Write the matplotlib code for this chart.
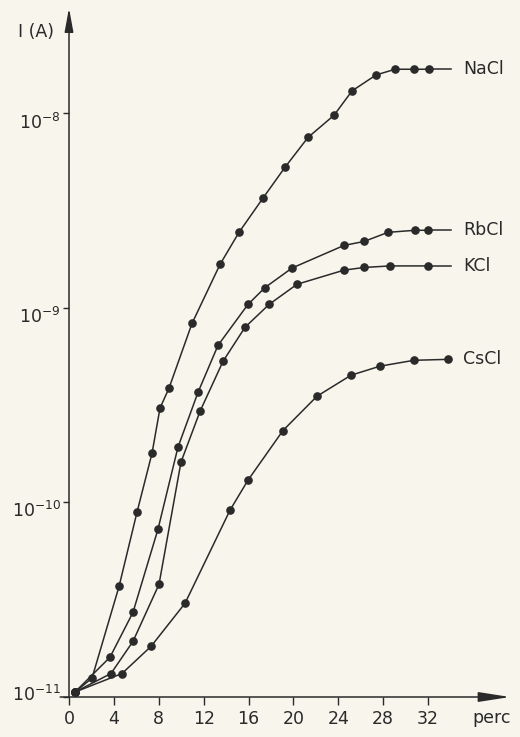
import matplotlib
matplotlib.use("Agg")
import matplotlib.pyplot as plt
import matplotlib.transforms as mtransforms
from matplotlib.ticker import NullLocator

# ---- data ----
perc_nacl = [0.53, 2.05, 4.46, 6.06, 7.40, 8.11, 8.91, 10.96, 13.46, 15.15,
             17.29, 19.25, 21.30, 23.62, 25.22, 27.36, 29.06, 30.75, 32.09]
i_nacl = [1.06e-11, 1.25e-11, 3.7e-11, 8.9e-11, 1.79e-10, 3.05e-10, 3.86e-10,
          8.3e-10, 1.67e-9, 2.44e-9, 3.66e-9, 5.27e-9, 7.5e-9, 9.75e-9,
          1.30e-8, 1.57e-8, 1.68e-8, 1.68e-8, 1.68e-8]

perc_rbcl = [0.53, 3.65, 5.70, 7.93, 9.71, 11.50, 13.28, 15.95, 17.47, 19.88,
             24.51, 26.29, 28.43, 30.84, 32.00]
i_rbcl = [1.06e-11, 1.60e-11, 2.72e-11, 7.28e-11, 1.92e-10, 3.68e-10, 6.41e-10,
          1.04e-9, 1.27e-9, 1.60e-9, 2.09e-9, 2.19e-9, 2.44e-9, 2.50e-9, 2.50e-9]

perc_kcl = [0.53, 3.74, 5.70, 8.02, 9.98, 11.68, 13.73, 15.69, 17.83, 20.32,
            24.51, 26.29, 28.61, 32.00]
i_kcl = [1.06e-11, 1.32e-11, 1.93e-11, 3.79e-11, 1.61e-10, 2.94e-10, 5.31e-10,
         7.94e-10, 1.04e-9, 1.32e-9, 1.56e-9, 1.61e-9, 1.64e-9, 1.64e-9]

perc_cscl = [0.53, 4.72, 7.31, 10.34, 14.35, 15.95, 19.07, 22.10, 25.13, 27.72,
             30.75, 33.78]
i_cscl = [1.06e-11, 1.32e-11, 1.82e-11, 3.03e-11, 9.12e-11, 1.30e-10, 2.34e-10,
          3.51e-10, 4.50e-10, 5.01e-10, 5.37e-10, 5.43e-10]

series_names = ["NaCl", "RbCl", "KCl", "CsCl"]
x_ticks = [0, 4, 8, 12, 16, 20, 24, 28, 32]
y_ticks = [1e-11, 1e-10, 1e-9, 1e-8]
y_tick_labels = [r"$10^{-11}$", r"$10^{-10}$", r"$10^{-9}$", r"$10^{-8}$"]

# ---- style ----
bg = "#f7f5ec"
ink = "#2a2a2a"
plt.rcParams["font.family"] = ["DejaVu Sans"]
plt.rcParams["mathtext.fontset"] = "dejavusans"
plt.rcParams["mathtext.default"] = "regular"

fig = plt.figure(figsize=(5.2, 7.37), dpi=100)
fig.patch.set_facecolor(bg)
ax = fig.add_axes([69 / 520, 40 / 737, 441 / 520, 689 / 737])
ax.set_facecolor(bg)
ax.set_yscale("log")
ax.set_xlim(0, 39.3)
ax.set_ylim(1e-11, 10 ** -7.46)

for s in ax.spines.values():
    s.set_visible(False)

# axis lines with arrows
ax.annotate("", xy=(1.0, 0), xytext=(-0.02, 0), xycoords="axes fraction",
            textcoords="axes fraction",
            arrowprops=dict(arrowstyle="-|>,head_length=1.6,head_width=0.25",
                            color=ink, lw=1.1, mutation_scale=12, shrinkA=0, shrinkB=0))
ax.annotate("", xy=(0, 1.0), xytext=(0, 0), xycoords="axes fraction",
            textcoords="axes fraction",
            arrowprops=dict(arrowstyle="-|>,head_length=1.2,head_width=0.22",
                            color=ink, lw=1.1, mutation_scale=12, shrinkA=0, shrinkB=0))

ax.set_xticks(x_ticks)
ax.set_xticklabels([str(t) for t in x_ticks])
ax.set_yticks(y_ticks)
ax.set_yticklabels(y_tick_labels)
ax.yaxis.set_minor_locator(NullLocator())
ax.tick_params(axis="x", direction="out", length=6, width=1.0, colors=ink,
               labelsize=12.5, pad=3)
ax.tick_params(axis="y", direction="out", length=4, width=1.0, colors=ink,
               labelsize=12.5, pad=2)

offsets = {0: 3, 1: -5, 2: -5, 3: -6}
for k, lab in enumerate(ax.get_yticklabels()):
    off = mtransforms.ScaledTranslation(0, offsets[k] / 72, fig.dpi_scale_trans)
    lab.set_transform(lab.get_transform() + off)

tail_end = 34.0
label_x = 35.1
data = [(perc_nacl, i_nacl), (perc_rbcl, i_rbcl), (perc_kcl, i_kcl), (perc_cscl, i_cscl)]
for name, (xs, ys) in zip(series_names, data):
    ax.plot(xs, ys, color=ink, lw=1.1, marker="o", ms=5.2, mfc=ink, mec=ink,
            clip_on=False, zorder=3)
    ax.plot([xs[-1], max(tail_end, xs[-1])], [ys[-1], ys[-1]], color=ink, lw=1.1,
            clip_on=False)
    ax.text(label_x, ys[-1], name, ha="left", va="center", fontsize=12.5, color=ink)

fig.text(36 / 520, 1 - 32 / 737, "I (A)", ha="center", va="center",
         fontsize=12.5, color=ink)
fig.text(492 / 520, 1 - 718 / 737, "perc", ha="center", va="center",
         fontsize=12.5, color=ink)

fig.savefig("out.png", dpi=100, facecolor=bg)
